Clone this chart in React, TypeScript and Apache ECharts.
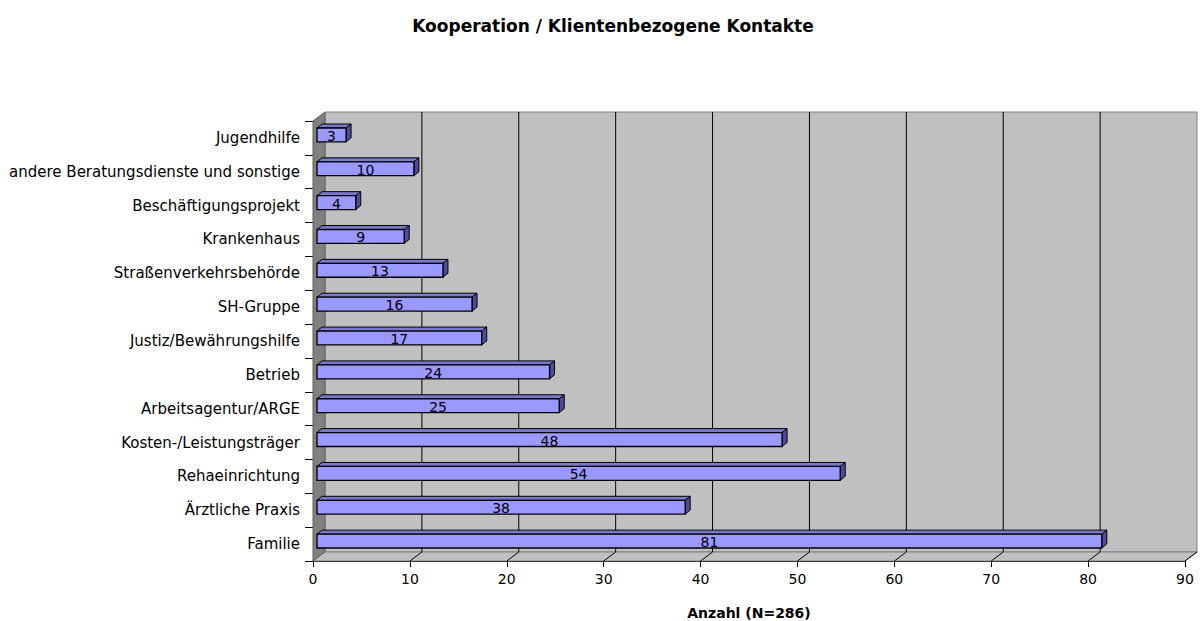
import React, { useEffect, useRef } from "react";
import * as echarts from "echarts";

const categories = [
  "Jugendhilfe",
  "andere Beratungsdienste und sonstige",
  "Beschäftigungsprojekt",
  "Krankenhaus",
  "Straßenverkehrsbehörde",
  "SH-Gruppe",
  "Justiz/Bewährungshilfe",
  "Betrieb",
  "Arbeitsagentur/ARGE",
  "Kosten-/Leistungsträger",
  "Rehaeinrichtung",
  "Ärztliche Praxis",
  "Familie",
];
const values = [3, 10, 4, 9, 13, 16, 17, 24, 25, 48, 54, 38, 81];
const xTicks = [0, 10, 20, 30, 40, 50, 60, 70, 80, 90];

const TITLE = "Kooperation / Klientenbezogene Kontakte";
const X_NAME = "Anzahl (N=286)";

// 3D look parameters (pixels)
const WALL_DX = 12;
const WALL_DY = -9;
const BAR_OX = 4;
const BAR_OY = -3;
const BAR_DX = 5;
const BAR_DY = -4;
const BAR_RATIO = 0.41;
const FONT = "'DejaVu Sans', Arial, sans-serif";

export default function App() {
  const ref = useRef<HTMLDivElement>(null);
  useEffect(() => {
    document.body.style.margin = "0";
    const chart = echarts.init(ref.current!, null, { renderer: "svg" });
    const barData = values.map((v, i) => [v, i]);
    chart.setOption({
      animation: false,
      backgroundColor: "#ffffff",
      title: {
        text: TITLE,
        left: 608,
        top: 12,
        textAlign: "center",
        textStyle: { fontFamily: FONT, fontSize: 17, fontWeight: "bold", color: "#000" },
      },
      grid: {
        left: 313,
        right: 15,
        top: 121,
        bottom: 60,
        containLabel: false,
        outerBoundsMode: "none",
      },
      xAxis: {
        type: "value",
        min: 0,
        max: 90,
        interval: 10,
        name: X_NAME,
        nameLocation: "middle",
        nameGap: 45,
        nameTextStyle: { fontFamily: FONT, fontSize: 14, fontWeight: "bold", color: "#000" },
        axisLine: { show: true, lineStyle: { color: "#000", width: 1 } },
        axisTick: { show: true, length: 6, lineStyle: { color: "#000" } },
        axisLabel: {
          fontFamily: FONT,
          fontSize: 14,
          color: "#000",
          margin: 11,
          formatter: (v: number) => String(v),
        },
        splitLine: { show: false },
      },
      yAxis: {
        type: "category",
        data: categories,
        inverse: true,
        axisLine: { show: true, lineStyle: { color: "#000", width: 1 } },
        axisTick: { show: true, length: 8, lineStyle: { color: "#000" } },
        axisLabel: { fontFamily: FONT, fontSize: 15, color: "#000", margin: 13, padding: [0, 0, 4, 0] },
        splitLine: { show: false },
      },
      series: [
        {
          type: "custom",
          name: "frame",
          z: 1,
          silent: true,
          clip: false,
          data: [[0, 0]],
          renderItem: (params: any, api: any) => {
            const cs = params.coordSys;
            const L = cs.x;
            const T = cs.y;
            const R = cs.x + cs.width;
            const B = cs.y + cs.height;
            const children: any[] = [];
            children.push({
              type: "rect",
              shape: { x: L + WALL_DX, y: T + WALL_DY, width: R - L, height: B - T },
              style: { fill: "#C0C0C0", stroke: "#808080", lineWidth: 1 },
            });
            children.push({
              type: "polygon",
              shape: {
                points: [
                  [L, B],
                  [R, B],
                  [R + WALL_DX, B + WALL_DY],
                  [L + WALL_DX, B + WALL_DY],
                ],
              },
              style: { fill: "#C0C0C0", stroke: "#808080", lineWidth: 1 },
            });
            children.push({
              type: "polygon",
              shape: {
                points: [
                  [L, T],
                  [L + WALL_DX, T + WALL_DY],
                  [L + WALL_DX, B + WALL_DY],
                  [L, B],
                ],
              },
              style: { fill: "#808080", stroke: "#606060", lineWidth: 1 },
            });
            xTicks.forEach((t) => {
              if (t === 0 || t === 90) return;
              const x = api.coord([t, 0])[0];
              children.push({
                type: "line",
                shape: { x1: x + WALL_DX, y1: T + WALL_DY, x2: x + WALL_DX, y2: B + WALL_DY },
                style: { stroke: "#000", lineWidth: 1 },
              });
            });
            xTicks.forEach((t) => {
              if (t === 0) return;
              const x = api.coord([t, 0])[0];
              children.push({
                type: "line",
                shape: { x1: x, y1: B, x2: x + WALL_DX, y2: B + WALL_DY },
                style: { stroke: "#000", lineWidth: 1 },
              });
            });
            return { type: "group", children };
          },
        },
        {
          type: "custom",
          name: "Anzahl",
          z: 5,
          clip: false,
          encode: { x: 0, y: 1 },
          data: barData,
          renderItem: (params: any, api: any) => {
            const v = api.value(0);
            const idx = api.value(1);
            const s = api.coord([0, idx]);
            const e = api.coord([v, idx]);
            const h = api.size([0, 1])[1] * BAR_RATIO;
            const x0 = s[0] + BAR_OX;
            const x1 = e[0] + BAR_OX;
            const y0 = s[1] - h / 2 + BAR_OY;
            const y1 = y0 + h;
            const stroke = "#000";
            return {
              type: "group",
              children: [
                {
                  type: "polygon",
                  shape: {
                    points: [
                      [x0, y0],
                      [x0 + BAR_DX, y0 + BAR_DY],
                      [x1 + BAR_DX, y0 + BAR_DY],
                      [x1, y0],
                    ],
                  },
                  style: { fill: "#7A7ACC", stroke, lineWidth: 1 },
                },
                {
                  type: "polygon",
                  shape: {
                    points: [
                      [x1, y0],
                      [x1 + BAR_DX, y0 + BAR_DY],
                      [x1 + BAR_DX, y1 + BAR_DY],
                      [x1, y1],
                    ],
                  },
                  style: { fill: "#4C4C99", stroke, lineWidth: 1 },
                },
                {
                  type: "rect",
                  shape: { x: x0, y: y0, width: x1 - x0, height: h },
                  style: { fill: "#9999FF", stroke, lineWidth: 1.3 },
                },
                {
                  type: "text",
                  style: {
                    text: String(v),
                    x: (x0 + x1) / 2,
                    y: (y0 + y1) / 2 + 1,
                    align: "center",
                    verticalAlign: "middle",
                    fontFamily: FONT,
                    fontSize: 14,
                    fill: "#000",
                  },
                },
              ],
            };
          },
        },
      ],
    });
    return () => chart.dispose();
  }, []);
  return <div ref={ref} style={{ width: 1200, height: 621 }} />;
}
